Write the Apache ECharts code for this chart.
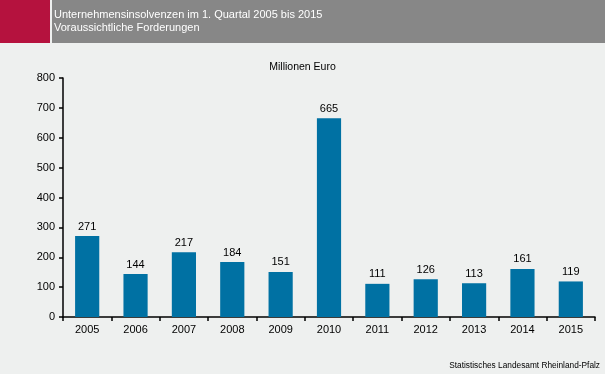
<!DOCTYPE html>
<html><head><meta charset="utf-8">
<script src="https://cdn.jsdelivr.net/npm/echarts@6/dist/echarts.min.js"></script>
<style>html,body{margin:0;padding:0;background:#eef0ef;}#c{width:605px;height:374px;}</style>
</head><body><div id="c"></div>
<script>
const categories = ['2005','2006','2007','2008','2009','2010','2011','2012','2013','2014','2015'];
const values = [271,144,217,184,151,665,111,126,113,161,119];
const yTicks = [0,100,200,300,400,500,600,700,800];
const titleLines = ['Unternehmensinsolvenzen im 1. Quartal 2005 bis 2015','Voraussichtliche Forderungen'];
const unitLabel = 'Millionen Euro';
const sourceLabel = 'Statistisches Landesamt Rheinland-Pfalz';

const chart = echarts.init(document.getElementById('c'), null, {renderer:'canvas'});
const font = 'Arial, "Liberation Sans", sans-serif';
chart.setOption({
  backgroundColor:'#eef0ef',
  animation:false,
  grid:{left:63, right:10, top:78, bottom:57, containLabel:false},
  graphic:[
    {type:'rect', shape:{x:0,y:0,width:50,height:43}, style:{fill:'#b5123e'}},
    {type:'rect', shape:{x:52,y:0,width:553,height:43}, style:{fill:'#878787'}},
    {type:'text', x:54, y:9, style:{text:titleLines.join('\n'), fill:'#ffffff', font:'11px '+font, lineHeight:12.5}},
    {type:'text', left:'center', y:62, style:{text:unitLabel, fill:'#000', font:'10.5px '+font}},
    {type:'text', right:5, y:362, style:{text:sourceLabel, fill:'#000', font:'8.3px '+font}}
  ],
  xAxis:{type:'category', data:categories, boundaryGap:true,
    axisLine:{lineStyle:{color:'#000', width:1.5}},
    axisTick:{show:true, alignWithLabel:false, length:4, lineStyle:{color:'#000', width:1.5}},
    axisLabel:{color:'#000', fontFamily:font, fontSize:11, margin:7}},
  yAxis:{type:'value', min:yTicks[0], max:yTicks[yTicks.length-1], interval:100,
    axisLine:{show:true, lineStyle:{color:'#000', width:1.5}},
    axisTick:{show:true, length:4, lineStyle:{color:'#000', width:1.5}},
    splitLine:{show:false},
    axisLabel:{color:'#000', fontFamily:font, fontSize:11, margin:8}},
  series:[{type:'bar', data:values, barWidth:'50%', itemStyle:{color:'#0071a3'},
    label:{show:true, position:'top', distance:4, color:'#000', fontFamily:font, fontSize:11}}]
});
</script></body></html>
